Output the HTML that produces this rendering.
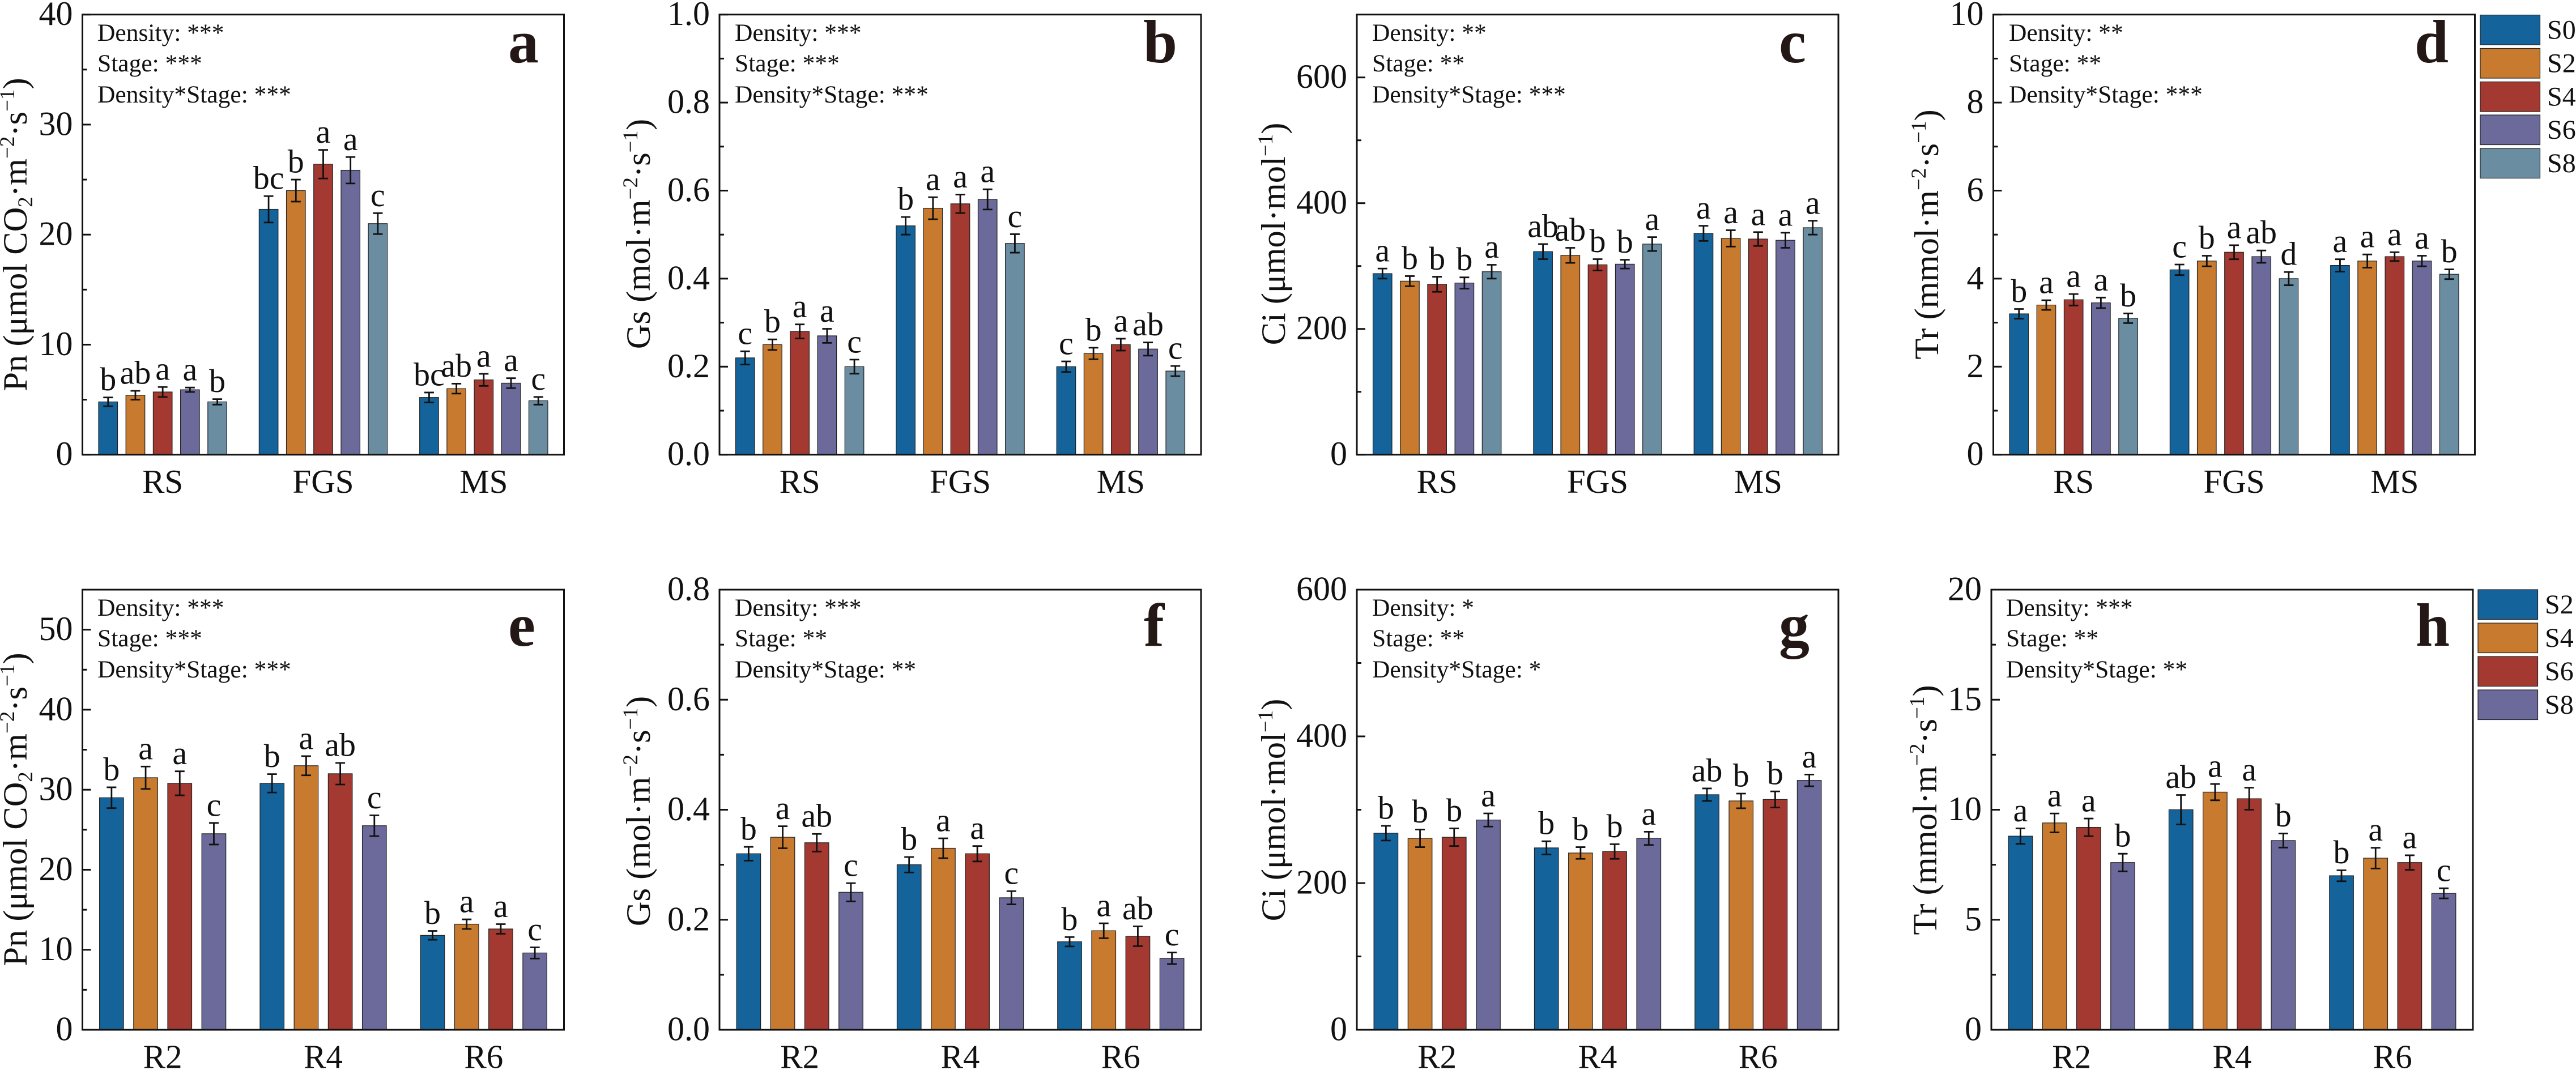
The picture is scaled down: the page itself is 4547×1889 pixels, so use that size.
<!DOCTYPE html>
<html lang="en">
<head>
<meta charset="utf-8">
<title>Photosynthetic traits by density and stage</title>
<style>
html,body{margin:0;padding:0;background:#fff;width:4547px;height:1889px;overflow:hidden}
svg{display:block;font-family:"Liberation Serif","Times New Roman",serif;fill:#111}
.title{font-size:60.5px}
.title tspan.sup,.title tspan.sub{font-size:37px}
.note{font-size:43.5px}
.letter{font-size:108px;font-weight:bold;fill:#231815}
.legend{font-size:48px}
</style>
</head>
<body>
<svg id="chart" xmlns="http://www.w3.org/2000/svg" width="4547" height="1889" viewBox="0 0 4547 1889">
<rect x="0" y="0" width="4547" height="1889" fill="#fff"/>
<g id="plots"></g>

<g>
<text class="title" text-anchor="middle" transform="translate(47,414) rotate(-90)">Pn (μmol CO<tspan class="sub" dy="10">2</tspan><tspan dy="-10">·m</tspan><tspan class="sup" dy="-22">−2</tspan><tspan dy="22">·s</tspan><tspan class="sup" dy="-22">−1</tspan><tspan dy="22">)</tspan></text>
<text class="title" text-anchor="middle" transform="translate(1147,413) rotate(-90)">Gs (mol·m<tspan class="sup" dy="-22">−2</tspan><tspan dy="22">·s</tspan><tspan class="sup" dy="-22">−1</tspan><tspan dy="22">)</tspan></text>
<text class="title" text-anchor="middle" transform="translate(2268,413) rotate(-90)">Ci (μmol·mol<tspan class="sup" dy="-22">−1</tspan><tspan dy="22">)</tspan></text>
<text class="title" text-anchor="middle" transform="translate(3421,414) rotate(-90)">Tr (mmol·m<tspan class="sup" dy="-22">−2</tspan><tspan dy="22">·s</tspan><tspan class="sup" dy="-22">−1</tspan><tspan dy="22">)</tspan></text>
<text class="title" text-anchor="middle" transform="translate(47,1429) rotate(-90)">Pn (μmol CO<tspan class="sub" dy="10">2</tspan><tspan dy="-10">·m</tspan><tspan class="sup" dy="-22">−2</tspan><tspan dy="22">·s</tspan><tspan class="sup" dy="-22">−1</tspan><tspan dy="22">)</tspan></text>
<text class="title" text-anchor="middle" transform="translate(1147,1432) rotate(-90)">Gs (mol·m<tspan class="sup" dy="-22">−2</tspan><tspan dy="22">·s</tspan><tspan class="sup" dy="-22">−1</tspan><tspan dy="22">)</tspan></text>
<text class="title" text-anchor="middle" transform="translate(2268,1430) rotate(-90)">Ci (μmol·mol<tspan class="sup" dy="-22">−1</tspan><tspan dy="22">)</tspan></text>
<text class="title" text-anchor="middle" transform="translate(3418,1430) rotate(-90)">Tr (mmol·m<tspan class="sup" dy="-22">−2</tspan><tspan dy="22">·s</tspan><tspan class="sup" dy="-22">−1</tspan><tspan dy="22">)</tspan></text>
</g>

<g>
<text class="note" x="172" y="72">Density: ***</text>
<text class="note" x="172" y="126">Stage: ***</text>
<text class="note" x="172" y="181">Density*Stage: ***</text>
<text class="note" x="1297" y="72">Density: ***</text>
<text class="note" x="1297" y="126">Stage: ***</text>
<text class="note" x="1297" y="181">Density*Stage: ***</text>
<text class="note" x="2422" y="72">Density: **</text>
<text class="note" x="2422" y="126">Stage: **</text>
<text class="note" x="2422" y="181">Density*Stage: ***</text>
<text class="note" x="3546" y="72">Density: **</text>
<text class="note" x="3546" y="126">Stage: **</text>
<text class="note" x="3546" y="181">Density*Stage: ***</text>
<text class="note" x="172" y="1087">Density: ***</text>
<text class="note" x="172" y="1141">Stage: ***</text>
<text class="note" x="172" y="1196">Density*Stage: ***</text>
<text class="note" x="1297" y="1087">Density: ***</text>
<text class="note" x="1297" y="1141">Stage: **</text>
<text class="note" x="1297" y="1196">Density*Stage: **</text>
<text class="note" x="2422" y="1087">Density: *</text>
<text class="note" x="2422" y="1141">Stage: **</text>
<text class="note" x="2422" y="1196">Density*Stage: *</text>
<text class="note" x="3541" y="1087">Density: ***</text>
<text class="note" x="3541" y="1141">Stage: **</text>
<text class="note" x="3541" y="1196">Density*Stage: **</text>
</g>

<g>
<text class="letter" x="897" y="110">a</text>
<text class="letter" x="2018" y="110">b</text>
<text class="letter" x="3140" y="110">c</text>
<text class="letter" x="4262" y="110">d</text>
<text class="letter" x="897" y="1140">e</text>
<text class="letter" x="2019" y="1140">f</text>
<text class="letter" x="3140" y="1140">g</text>
<text class="letter" x="4264" y="1140">h</text>
</g>

<g id="legend-top">
<rect x="4378" y="26.5" width="105.5" height="52.5" fill="#14639a" stroke="#222" stroke-width="1.2"/>
<text class="legend" x="4496" y="68.5">S0</text>
<rect x="4378" y="85.5" width="105.5" height="52.5" fill="#c87b2f" stroke="#222" stroke-width="1.2"/>
<text class="legend" x="4496" y="127.5">S2</text>
<rect x="4378" y="144.5" width="105.5" height="52.5" fill="#a33930" stroke="#222" stroke-width="1.2"/>
<text class="legend" x="4496" y="186.5">S4</text>
<rect x="4378" y="203" width="105.5" height="52.5" fill="#6c6a9a" stroke="#222" stroke-width="1.2"/>
<text class="legend" x="4496" y="245">S6</text>
<rect x="4378" y="262" width="105.5" height="52.5" fill="#6a8da1" stroke="#222" stroke-width="1.2"/>
<text class="legend" x="4496" y="304">S8</text>
</g>
<g id="legend-bottom">
<rect x="4374" y="1041" width="105.5" height="52.5" fill="#14639a" stroke="#222" stroke-width="1.2"/>
<text class="legend" x="4492" y="1083">S2</text>
<rect x="4374" y="1100" width="105.5" height="52.5" fill="#c87b2f" stroke="#222" stroke-width="1.2"/>
<text class="legend" x="4492" y="1142">S4</text>
<rect x="4374" y="1159" width="105.5" height="52.5" fill="#a33930" stroke="#222" stroke-width="1.2"/>
<text class="legend" x="4492" y="1201">S6</text>
<rect x="4374" y="1218" width="105.5" height="52.5" fill="#6c6a9a" stroke="#222" stroke-width="1.2"/>
<text class="legend" x="4492" y="1260">S8</text>
</g>
</svg>

<script>
// ---- categories ----
const stageCategories = ['RS', 'FGS', 'MS'];
const reproCategories = ['R2', 'R4', 'R6'];

// ---- panel a: Pn by stage ----
const pnStageValues = [[4.8, 5.4, 5.7, 5.9, 4.8], [22.3, 24, 26.4, 25.85, 21], [5.2, 6, 6.8, 6.5, 4.9]];
const pnStageErrors = [[0.4, 0.4, 0.45, 0.2, 0.25], [1.2, 1, 1.3, 1.2, 0.95], [0.45, 0.45, 0.55, 0.45, 0.35]];
const pnStageLetters = [['b', 'ab', 'a', 'a', 'b'], ['bc', 'b', 'a', 'a', 'c'], ['bc', 'ab', 'a', 'a', 'c']];
const pnStageTicks = ['0', '10', '20', '30', '40'];
const pnStageMinorTicks = [5, 15, 25, 35];

// ---- panel b: Gs by stage ----
const gsStageValues = [[0.22, 0.25, 0.28, 0.27, 0.2], [0.52, 0.56, 0.57, 0.58, 0.48], [0.2, 0.23, 0.25, 0.24, 0.19]];
const gsStageErrors = [[0.015, 0.012, 0.016, 0.016, 0.016], [0.02, 0.025, 0.021, 0.023, 0.021], [0.012, 0.013, 0.0135, 0.015, 0.0115]];
const gsStageLetters = [['c', 'b', 'a', 'a', 'c'], ['b', 'a', 'a', 'a', 'c'], ['c', 'b', 'a', 'ab', 'c']];
const gsStageTicks = ['0.0', '0.2', '0.4', '0.6', '0.8', '1.0'];
const gsStageMinorTicks = [0.1, 0.3, 0.5, 0.7, 0.9];

// ---- panel c: Ci by stage ----
const ciStageValues = [[288, 276, 271, 273, 291], [323, 317, 302, 303, 335], [352, 344, 343, 341, 361]];
const ciStageErrors = [[8, 8, 12, 9, 11], [12, 12, 9, 7, 11], [12, 13, 11, 12, 11]];
const ciStageLetters = [['a', 'b', 'b', 'b', 'a'], ['ab', 'ab', 'b', 'b', 'a'], ['a', 'a', 'a', 'a', 'a']];
const ciStageTicks = ['0', '200', '400', '600'];
const ciStageMinorTicks = [100, 300, 500];

// ---- panel d: Tr by stage ----
const trStageValues = [[3.2, 3.4, 3.52, 3.45, 3.1], [4.2, 4.4, 4.6, 4.5, 4], [4.3, 4.4, 4.5, 4.4, 4.1]];
const trStageErrors = [[0.11, 0.11, 0.13, 0.12, 0.11], [0.12, 0.12, 0.16, 0.14, 0.15], [0.14, 0.15, 0.1, 0.12, 0.11]];
const trStageLetters = [['b', 'a', 'a', 'a', 'b'], ['c', 'b', 'a', 'ab', 'd'], ['a', 'a', 'a', 'a', 'b']];
const trStageTicks = ['0', '2', '4', '6', '8', '10'];
const trStageMinorTicks = [1, 3, 5, 7, 9];

// ---- panel e: Pn by reproductive stage ----
const pnReproValues = [[29, 31.5, 30.8, 24.5], [30.8, 33, 32, 25.5], [11.8, 13.2, 12.6, 9.6]];
const pnReproErrors = [[1.3, 1.4, 1.5, 1.35], [1.15, 1.2, 1.35, 1.3], [0.55, 0.6, 0.6, 0.7]];
const pnReproLetters = [['b', 'a', 'a', 'c'], ['b', 'a', 'ab', 'c'], ['b', 'a', 'a', 'c']];
const pnReproTicks = ['0', '10', '20', '30', '40', '50'];
const pnReproMinorTicks = [5, 15, 25, 35, 45];

// ---- panel f: Gs by reproductive stage ----
const gsReproValues = [[0.32, 0.35, 0.34, 0.25], [0.3, 0.33, 0.32, 0.24], [0.16, 0.18, 0.17, 0.13]];
const gsReproErrors = [[0.0125, 0.02, 0.016, 0.0165], [0.014, 0.018, 0.014, 0.012], [0.0085, 0.0136, 0.018, 0.0105]];
const gsReproLetters = [['b', 'a', 'ab', 'c'], ['b', 'a', 'a', 'c'], ['b', 'a', 'ab', 'c']];
const gsReproTicks = ['0.0', '0.2', '0.4', '0.6', '0.8'];
const gsReproMinorTicks = [0.1, 0.3, 0.5, 0.7];

// ---- panel g: Ci by reproductive stage ----
const ciReproValues = [[268, 261, 262.5, 286], [248, 241, 243, 261], [320.5, 312, 314, 340]];
const ciReproErrors = [[10, 12, 12, 9], [9, 8, 10, 9], [8.5, 10, 11, 8]];
const ciReproLetters = [['b', 'b', 'b', 'a'], ['b', 'b', 'b', 'a'], ['ab', 'b', 'b', 'a']];
const ciReproTicks = ['0', '200', '400', '600'];
const ciReproMinorTicks = [100, 300, 500];

// ---- panel h: Tr by reproductive stage ----
const trReproValues = [[8.8, 9.4, 9.2, 7.6], [10, 10.8, 10.5, 8.6], [7, 7.8, 7.6, 6.2]];
const trReproErrors = [[0.35, 0.43, 0.4, 0.4], [0.67, 0.37, 0.5, 0.32], [0.25, 0.47, 0.33, 0.23]];
const trReproLetters = [['a', 'a', 'a', 'b'], ['ab', 'a', 'a', 'b'], ['b', 'a', 'a', 'c']];
const trReproTicks = ['0', '5', '10', '15', '20'];
const trReproMinorTicks = [2.5, 7.5, 12.5, 17.5];

// ---- layout (not data) ----
const stageColors = ['#14639a', '#c87b2f', '#a33930', '#6c6a9a', '#6a8da1'];
const reproColors = ['#14639a', '#c87b2f', '#a33930', '#6c6a9a'];
const ROW_TOP = { upper: 25.7, lower: 1041 };
const PLOT_W = 850, PLOT_H = 777;
const INK = '#111111';

const panels = [
  { left: 145.5, top: ROW_TOP.upper, yMax: 40,  cats: stageCategories, values: pnStageValues, errors: pnStageErrors, letters: pnStageLetters, ticks: pnStageTicks, minor: pnStageMinorTicks, colors: stageColors, pitch: 48.2, barW: 33.5 },
  { left: 1270, top: ROW_TOP.upper, yMax: 1,   cats: stageCategories, values: gsStageValues, errors: gsStageErrors, letters: gsStageLetters, ticks: gsStageTicks, minor: gsStageMinorTicks, colors: stageColors, pitch: 48.2, barW: 33.5 },
  { left: 2395, top: ROW_TOP.upper, yMax: 700, cats: stageCategories, values: ciStageValues, errors: ciStageErrors, letters: ciStageLetters, ticks: ciStageTicks, minor: ciStageMinorTicks, colors: stageColors, pitch: 48.2, barW: 33.5 },
  { left: 3518.5, top: ROW_TOP.upper, yMax: 10, cats: stageCategories, values: trStageValues, errors: trStageErrors, letters: trStageLetters, ticks: trStageTicks, minor: trStageMinorTicks, colors: stageColors, pitch: 48.2, barW: 33.5 },
  { left: 145.5, top: ROW_TOP.lower, yMax: 55,  cats: reproCategories, values: pnReproValues, errors: pnReproErrors, letters: pnReproLetters, ticks: pnReproTicks, minor: pnReproMinorTicks, colors: reproColors, pitch: 60.2, barW: 42.5 },
  { left: 1270, top: ROW_TOP.lower, yMax: 0.8, cats: reproCategories, values: gsReproValues, errors: gsReproErrors, letters: gsReproLetters, ticks: gsReproTicks, minor: gsReproMinorTicks, colors: reproColors, pitch: 60.2, barW: 42.5 },
  { left: 2395, top: ROW_TOP.lower, yMax: 600, cats: reproCategories, values: ciReproValues, errors: ciReproErrors, letters: ciReproLetters, ticks: ciReproTicks, minor: ciReproMinorTicks, colors: reproColors, pitch: 60.2, barW: 42.5 },
  { left: 3515, top: ROW_TOP.lower, yMax: 20,  cats: reproCategories, values: trReproValues, errors: trReproErrors, letters: trReproLetters, ticks: trReproTicks, minor: trReproMinorTicks, colors: reproColors, pitch: 60.2, barW: 42.5 }
];

const NS = 'http://www.w3.org/2000/svg';
function add(tag, attrs, parent) {
  const el = document.createElementNS(NS, tag);
  for (const k in attrs) el.setAttribute(k, attrs[k]);
  parent.appendChild(el);
  return el;
}

const root = document.getElementById('plots');

panels.forEach(function (p) {
  const bottom = p.top + PLOT_H;
  const yScale = function (v) { return bottom - (v / p.yMax) * PLOT_H; };
  const groupW = PLOT_W / p.cats.length;
  const xScale = function (group, bar, count) {
    return p.left + groupW * (group + 0.5) + (bar - (count - 1) / 2) * p.pitch;
  };

  const g = add('g', {}, root);
  
  

  p.values.forEach(function (series, gi) {
    series.forEach(function (v, bi) {
      const cx = xScale(gi, bi, series.length);
      const top = yScale(v);
      const bar = add('rect', { x: cx - p.barW / 2, y: top, width: p.barW, height: bottom - top, fill: p.colors[bi], stroke: '#222', 'stroke-width': 1.2 }, g);
      
      

      const errV = p.errors[gi][bi];
      const errTop = yScale(v + errV);
      const errBottom = yScale(v - errV);
      const stem = add('line', { x1: cx, x2: cx, y1: errTop, y2: errBottom, stroke: INK, 'stroke-width': 2.8 }, g);
      
      
      const capTop = add('line', { x1: cx - 8.5, x2: cx + 8.5, y1: errTop, y2: errTop, stroke: INK, 'stroke-width': 2.8 }, g);
      
      
      const capBottom = add('line', { x1: cx - 8.5, x2: cx + 8.5, y1: errBottom, y2: errBottom, stroke: INK, 'stroke-width': 2.8 }, g);
      
      

      const sig = add('text', { x: cx, y: errTop - 12.5, 'text-anchor': 'middle', 'font-size': 58 }, g);
      sig.textContent = p.letters[gi][bi];
      
      
    });
  });

  p.ticks.forEach(function (label) {
    const y = yScale(parseFloat(label));
    const tick = add('line', { x1: p.left, x2: p.left + 15, y1: y, y2: y, stroke: INK, 'stroke-width': 3 }, g);
    
    
    const t = add('text', { x: p.left - 17, y: y + 18.5, 'text-anchor': 'end', 'font-size': 60 }, g);
    t.textContent = label;
    
    
  });

  p.minor.forEach(function (v) {
    const y = yScale(v);
    const tick = add('line', { x1: p.left, x2: p.left + 8, y1: y, y2: y, stroke: INK, 'stroke-width': 3 }, g);
    
    
  });

  p.cats.forEach(function (label, i) {
    const t = add('text', { x: p.left + groupW * (i + 0.5), y: bottom + 67.5, 'text-anchor': 'middle', 'font-size': 59 }, g);
    t.textContent = label;
    
    
  });

  const frame = add('rect', { x: p.left, y: p.top, width: PLOT_W, height: PLOT_H, fill: 'none', stroke: INK, 'stroke-width': 3 }, g);
  
  
});
</script>
</body>
</html>
